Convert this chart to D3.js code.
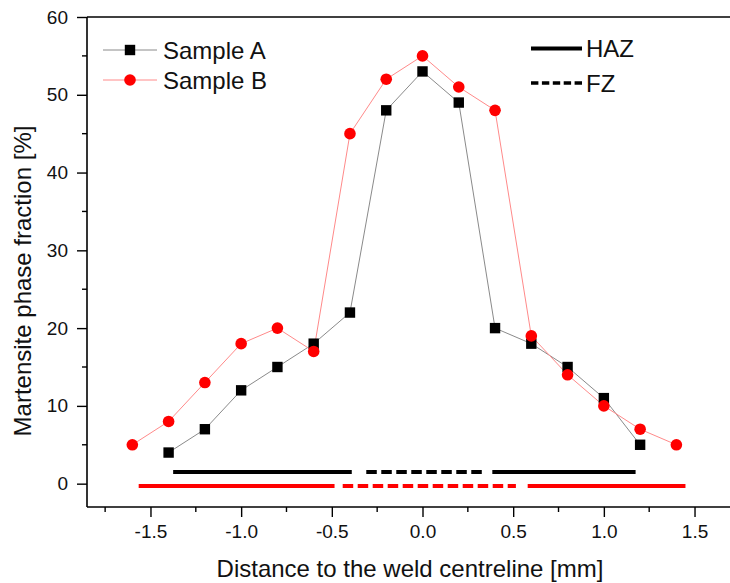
<!DOCTYPE html>
<html><head><meta charset="utf-8">
<script src="https://cdn.jsdelivr.net/npm/d3@7"></script>
<style>
html,body{margin:0;padding:0;background:#fff;}
svg{display:block;font-family:"Liberation Sans",Arial,Helvetica,sans-serif;}
</style></head>
<body><svg id="chart" width="730" height="583"></svg>
<script>
// ---- data ----
const xA = [-1.4,-1.2,-1.0,-0.8,-0.6,-0.4,-0.2,0.0,0.2,0.4,0.6,0.8,1.0,1.2];
const yA = [4,7,12,15,18,22,48,53,49,20,18,15,11,5];
const xB = [-1.6,-1.4,-1.2,-1.0,-0.8,-0.6,-0.4,-0.2,0.0,0.2,0.4,0.6,0.8,1.0,1.2,1.4];
const yB = [5,8,13,18,20,17,45,52,55,51,48,19,14,10,7,5];
// zone bars: [start, end, zone]
const zonesA = [[-1.375,-0.39,"HAZ"],[-0.31,0.33,"FZ"],[0.385,1.175,"HAZ"]];
const zonesB = [[-1.565,-0.485,"HAZ"],[-0.44,0.515,"FZ"],[0.58,1.45,"HAZ"]];
const zoneLevelA = 1.5, zoneLevelB = -0.3;
const xTicks = [-1.5,-1.0,-0.5,0.0,0.5,1.0,1.5];
const xMinor = [-1.75,-1.25,-0.75,-0.25,0.25,0.75,1.25,1.75];
const yTicks = [0,10,20,30,40,50,60];
const yMinor = [5,15,25,35,45,55];
const seriesNames = ["Sample A","Sample B"];
const zoneNames = ["HAZ","FZ"];

// ---- layout ----
const svg = d3.select("#chart");
const L = 87, R = 758, T = 17, B = 507;
const x = d3.scaleLinear().domain([-1.85,1.85]).range([L,R]);
const y = d3.scaleLinear().domain([-3,60]).range([B,T]);
const fmt = d => d3.format(".1f")(d).replace("\u2212","-");

const colA = "#000", colB = "#ff0000";
const lineA = "#8a8a8a", lineB = "#ff8a8a";

// frame
svg.append("line").attr("x1",L).attr("x2",R).attr("y1",T).attr("y2",T).attr("stroke","#000").attr("stroke-width",1.6);

// x axis
const gx = svg.append("g").attr("transform",`translate(0,${B})`);
gx.call(d3.axisBottom(x).tickValues(xTicks).tickSize(10).tickPadding(8).tickFormat(fmt))
  .call(g=>g.select(".domain").attr("stroke-width",1.6).attr("d",`M${L},0H${R}`));
gx.selectAll(".tick line").attr("stroke-width",1.4);
gx.selectAll(".tick text").attr("font-size",19).attr("fill","#111").attr("font-family","'Liberation Sans',Arial,sans-serif");
gx.selectAll(".minor").data(xMinor).enter().append("line").attr("class","minor")
  .attr("x1",d=>x(d)).attr("x2",d=>x(d)).attr("y1",0).attr("y2",5).attr("stroke","#000").attr("stroke-width",1.4);

// y axis
const gy = svg.append("g").attr("transform",`translate(${L},0)`);
gy.call(d3.axisLeft(y).tickValues(yTicks).tickSize(10).tickPadding(9).tickFormat(d3.format("d")))
  .call(g=>g.select(".domain").attr("stroke-width",1.6).attr("d",`M0,${T}V${B}`));
gy.selectAll(".tick line").attr("stroke-width",1.4);
gy.selectAll(".tick text").attr("font-size",19).attr("fill","#111").attr("font-family","'Liberation Sans',Arial,sans-serif");
gy.selectAll(".minor").data(yMinor).enter().append("line").attr("class","minor")
  .attr("x1",0).attr("x2",-5).attr("y1",d=>y(d)).attr("y2",d=>y(d)).attr("stroke","#000").attr("stroke-width",1.4);

// axis titles
svg.append("text").attr("x",410).attr("y",577).attr("text-anchor","middle")
  .attr("font-size",24).attr("fill","#111").text("Distance to the weld centreline [mm]");
svg.append("text").attr("transform","translate(31,281) rotate(-90)").attr("text-anchor","middle")
  .attr("font-size",24).attr("fill","#111").text("Martensite phase fraction [%]");

// zone bars
function zoneBars(zones, level, color){
  svg.append("g").selectAll("line").data(zones).enter().append("line")
    .attr("x1",d=>x(d[0])).attr("x2",d=>x(d[1]))
    .attr("y1",y(level)).attr("y2",y(level))
    .attr("stroke",color).attr("stroke-width",4)
    .attr("stroke-dasharray",d=>d[2]==="FZ"?"10.5,4.5":null);
}
zoneBars(zonesA, zoneLevelA, colA);
zoneBars(zonesB, zoneLevelB, colB);

// series lines
const dataA = xA.map((v,i)=>[v,yA[i]]);
const dataB = xB.map((v,i)=>[v,yB[i]]);
const line = d3.line().x(d=>x(d[0])).y(d=>y(d[1]));
svg.append("path").datum(dataA).attr("d",line).attr("fill","none").attr("stroke",lineA).attr("stroke-width",1);
svg.append("path").datum(dataB).attr("d",line).attr("fill","none").attr("stroke",lineB).attr("stroke-width",1);

// markers
svg.append("g").selectAll("rect").data(dataA).enter().append("rect")
  .attr("x",d=>x(d[0])-5.2).attr("y",d=>y(d[1])-5.2).attr("width",10.4).attr("height",10.4).attr("fill",colA);
svg.append("g").selectAll("circle").data(dataB).enter().append("circle")
  .attr("cx",d=>x(d[0])).attr("cy",d=>y(d[1])).attr("r",5.8).attr("fill",colB);

// legend (series)
const leg = svg.append("g");
const legY = [50,80];
[0,1].forEach(i=>{
  leg.append("line").attr("x1",103).attr("x2",157).attr("y1",legY[i]).attr("y2",legY[i])
    .attr("stroke",i===0?lineA:lineB).attr("stroke-width",1);
  if(i===0) leg.append("rect").attr("x",130-5.2).attr("y",legY[i]-5.2).attr("width",10.4).attr("height",10.4).attr("fill",colA);
  else leg.append("circle").attr("cx",130).attr("cy",legY[i]).attr("r",5.8).attr("fill",colB);
  leg.append("text").attr("x",163).attr("y",legY[i]+9).attr("font-size",24).attr("fill","#111").text(seriesNames[i]);
});
// legend (zones)
const zy = [48.5,83];
[0,1].forEach(i=>{
  leg.append("line").attr("x1",531).attr("x2",582).attr("y1",zy[i]).attr("y2",zy[i])
    .attr("stroke","#000").attr("stroke-width",i===0?4:3.5)
    .attr("stroke-dasharray",i===0?null:"7.4,3.5");
  leg.append("text").attr("x",586).attr("y",zy[i]+8.5).attr("font-size",24).attr("fill","#111").text(zoneNames[i]);
});
</script>
</body></html>
